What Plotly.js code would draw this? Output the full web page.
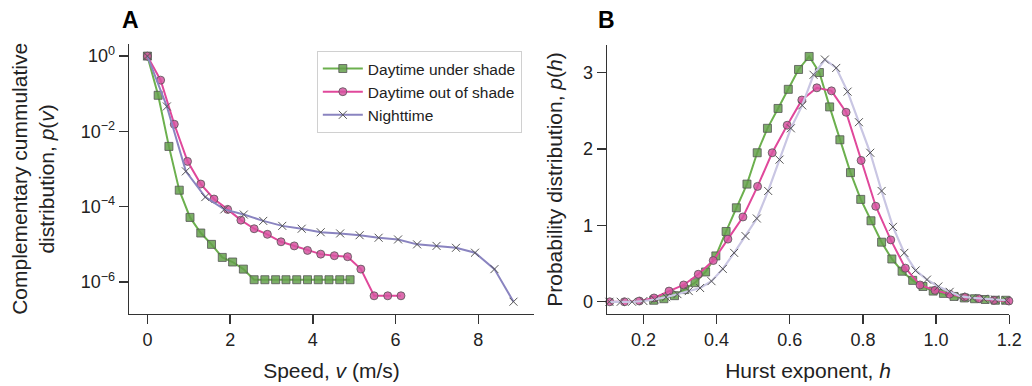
<!DOCTYPE html>
<html>
<head>
<meta charset="utf-8">
<script src="https://cdn.plot.ly/plotly-3.0.1.min.js"></script>
<style>
  html, body { margin: 0; padding: 0; background: #fff; }
  #chart { width: 1032px; height: 386px; }
</style>
</head>
<body>
<div id="chart"></div>
<script>
// ---------- Panel A: complementary cumulative distribution of speed ----------
const seriesNames = ["Daytime under shade", "Daytime out of shade", "Nighttime"];

const speedShade = [0, 0.26, 0.52, 0.77, 1.03, 1.29, 1.55, 1.81, 2.06, 2.32, 2.58, 2.84, 3.10, 3.35, 3.61, 3.87, 4.13, 4.39, 4.65, 4.90];
const ccdfShade  = [1, 0.091, 0.0040, 2.75e-4, 5.2e-5, 2.0e-5, 1.0e-5, 4.5e-6, 3.4e-6, 2.2e-6, 1.15e-6, 1.15e-6, 1.15e-6, 1.15e-6, 1.15e-6, 1.15e-6, 1.15e-6, 1.15e-6, 1.15e-6, 1.15e-6];

const speedSun = [0, 0.32, 0.65, 0.97, 1.29, 1.61, 1.94, 2.26, 2.58, 2.90, 3.23, 3.55, 3.87, 4.19, 4.52, 4.84, 5.16, 5.48, 5.81, 6.13];
const ccdfSun  = [1, 0.23, 0.0155, 1.6e-3, 4.0e-4, 1.6e-4, 8.5e-5, 4.4e-5, 2.6e-5, 1.85e-5, 1.17e-5, 9.1e-6, 6.9e-6, 5.5e-6, 5.0e-6, 4.7e-6, 2.2e-6, 4.3e-7, 4.3e-7, 4.3e-7];

const speedNight = [0, 0.47, 0.93, 1.40, 1.86, 2.33, 2.80, 3.26, 3.73, 4.19, 4.66, 5.13, 5.59, 6.06, 6.52, 6.99, 7.46, 7.92, 8.39, 8.85];
const ccdfNight  = [1, 0.046, 8.7e-4, 1.8e-4, 8.5e-5, 6.2e-5, 4.2e-5, 3.1e-5, 2.6e-5, 2.1e-5, 1.95e-5, 1.75e-5, 1.5e-5, 1.35e-5, 1.0e-5, 9.1e-6, 8.1e-6, 6.0e-6, 2.2e-6, 3.0e-7];

const speedTicks = [0, 2, 4, 6, 8];
const ccdfTickVals = [1, 1e-2, 1e-4, 1e-6];
const ccdfTickText = ["10<sup>0</sup>", "10<sup>\u22122</sup>", "10<sup>\u22124</sup>", "10<sup>\u22126</sup>"];

// ---------- Panel B: probability distribution of Hurst exponent ----------
const hShade = [0.228, 0.256, 0.285, 0.313, 0.341, 0.370, 0.398, 0.426, 0.454, 0.483, 0.511, 0.539, 0.568, 0.596, 0.624, 0.653, 0.681, 0.709, 0.737, 0.766, 0.794, 0.822, 0.851, 0.879, 0.907, 0.936, 0.964, 0.992, 1.020, 1.049, 1.077, 1.105, 1.134, 1.162, 1.190];
const pShade = [0.02, 0.04, 0.08, 0.16, 0.25, 0.39, 0.60, 0.92, 1.23, 1.54, 1.95, 2.27, 2.53, 2.78, 3.04, 3.21, 3.00, 2.55, 2.12, 1.69, 1.34, 1.06, 0.78, 0.56, 0.40, 0.28, 0.20, 0.14, 0.11, 0.07, 0.05, 0.04, 0.03, 0.02, 0.02];

const hSun = [0.108, 0.148, 0.189, 0.229, 0.270, 0.310, 0.350, 0.391, 0.431, 0.472, 0.512, 0.552, 0.593, 0.633, 0.674, 0.714, 0.754, 0.795, 0.835, 0.876, 0.916, 0.956, 0.997, 1.037, 1.078, 1.118, 1.158, 1.199];
const pSun = [0, 0, 0.01, 0.05, 0.14, 0.22, 0.36, 0.54, 0.82, 1.11, 1.51, 1.95, 2.31, 2.64, 2.80, 2.76, 2.48, 1.85, 1.25, 0.81, 0.44, 0.22, 0.15, 0.10, 0.06, 0.04, 0.02, 0.01];

const hNight = [0.107, 0.138, 0.169, 0.200, 0.231, 0.262, 0.293, 0.324, 0.355, 0.386, 0.417, 0.448, 0.479, 0.510, 0.541, 0.572, 0.603, 0.634, 0.665, 0.696, 0.727, 0.758, 0.789, 0.820, 0.851, 0.882, 0.913, 0.944, 0.975, 1.006, 1.037, 1.068, 1.099, 1.130, 1.161, 1.192];
const pNight = [0, 0, 0, 0.01, 0.03, 0.06, 0.10, 0.14, 0.18, 0.27, 0.43, 0.64, 0.86, 1.09, 1.45, 1.86, 2.27, 2.57, 2.97, 3.17, 3.06, 2.75, 2.35, 1.95, 1.45, 0.98, 0.64, 0.41, 0.29, 0.20, 0.13, 0.07, 0.05, 0.04, 0.03, 0.02];

const hTicks = [0.2, 0.4, 0.6, 0.8, 1.0, 1.2];
const pTicks = [0, 1, 2, 3];

// ---------- styles ----------
const FONT = "Liberation Sans, Arial, Helvetica, sans-serif";
const greenLine = "#6cb04e", greenFill = "rgba(100,160,75,0.85)";
const pinkLine = "#e0489b", pinkFill = "rgba(214,84,160,0.85)";
const purpleLine = "#8a84c0", lavenderLine = "#c9c6e3";
const edge = "rgba(85,85,85,0.8)";

function mk(symbol, fill) {
  return {symbol: symbol, size: 8, color: fill, line: {color: edge, width: 1}};
}
const xMarker = {symbol: "x-thin", size: 8, color: "#555", line: {color: "#555", width: 1}};

const traces = [
  {x: speedShade, y: ccdfShade, name: seriesNames[0], mode: "lines+markers", xaxis: "x", yaxis: "y",
   line: {color: greenLine, width: 2}, marker: mk("square", greenFill)},
  {x: speedSun, y: ccdfSun, name: seriesNames[1], mode: "lines+markers", xaxis: "x", yaxis: "y",
   line: {color: pinkLine, width: 2}, marker: mk("circle", pinkFill)},
  {x: speedNight, y: ccdfNight, name: seriesNames[2], mode: "lines+markers", xaxis: "x", yaxis: "y",
   line: {color: purpleLine, width: 2}, marker: xMarker},

  {x: hShade, y: pShade, name: seriesNames[0], mode: "lines+markers", xaxis: "x2", yaxis: "y2", showlegend: false,
   line: {color: greenLine, width: 2}, marker: mk("square", greenFill), cliponaxis: false},
  {x: hSun, y: pSun, name: seriesNames[1], mode: "lines+markers", xaxis: "x2", yaxis: "y2", showlegend: false,
   line: {color: pinkLine, width: 2}, marker: mk("circle", pinkFill), cliponaxis: false},
  {x: hNight, y: pNight, name: seriesNames[2], mode: "lines+markers", xaxis: "x2", yaxis: "y2", showlegend: false,
   line: {color: lavenderLine, width: 2.2}, marker: xMarker, cliponaxis: false}
];

const axisCommon = {
  showline: true, linecolor: "#333", linewidth: 1.3, mirror: false,
  ticks: "outside", ticklen: 9, tickwidth: 1.3, tickcolor: "#333",
  showgrid: false, zeroline: false,
  tickfont: {family: FONT, size: 18, color: "#222"}
};
const titleFont = {family: FONT, size: 21, color: "#222"};

const layout = {
  width: 1032, height: 386,
  margin: {l: 0, r: 0, t: 0, b: 0},
  paper_bgcolor: "#fff", plot_bgcolor: "#fff",
  font: {family: FONT, color: "#222"},
  showlegend: true,
  legend: {
    x: 0.307, y: 0.868, xanchor: "left", yanchor: "top",
    bgcolor: "#fff", bordercolor: "#d0d0d0", borderwidth: 1,
    font: {family: FONT, size: 15.5, color: "#222"},
    tracegroupgap: 0, itemwidth: 40
  },
  xaxis: Object.assign({}, axisCommon, {
    domain: [0.125, 0.5174], anchor: "y",
    range: [-0.445, 9.345], tickvals: speedTicks,
    title: {text: "Speed, <i>v</i> (m/s)", font: titleFont, standoff: 14}
  }),
  yaxis: Object.assign({}, axisCommon, {
    domain: [0.1865, 0.8868], anchor: "x",
    type: "log", range: [-6.85, 0.33],
    tickvals: ccdfTickVals, ticktext: ccdfTickText,
    title: {text: "Complementary cummulative<br>distribution, <i>p</i>(<i>v</i>)", font: titleFont, standoff: 20}
  }),
  xaxis2: Object.assign({}, axisCommon, {
    domain: [0.588, 0.978], anchor: "y2",
    range: [0.1, 1.2], tickvals: hTicks, tickformat: ".1f",
    title: {text: "Hurst exponent, <i>h</i>", font: titleFont, standoff: 14}
  }),
  yaxis2: Object.assign({}, axisCommon, {
    domain: [0.1865, 0.8834], anchor: "x2",
    range: [-0.16, 3.36], tickvals: pTicks,
    title: {text: "Probability distribution, <i>p</i>(<i>h</i>)", font: titleFont, standoff: 14}
  }),
  annotations: [
    {text: "<b>A</b>", xref: "paper", yref: "paper", x: 0.116, y: 0.948, xanchor: "left", yanchor: "middle",
     showarrow: false, font: {family: FONT, size: 23, color: "#000"}},
    {text: "<b>B</b>", xref: "paper", yref: "paper", x: 0.578, y: 0.948, xanchor: "left", yanchor: "middle",
     showarrow: false, font: {family: FONT, size: 23, color: "#000"}}
  ]
};

Plotly.newPlot("chart", traces, layout, {displayModeBar: false, staticPlot: true});
</script>
</body>
</html>
